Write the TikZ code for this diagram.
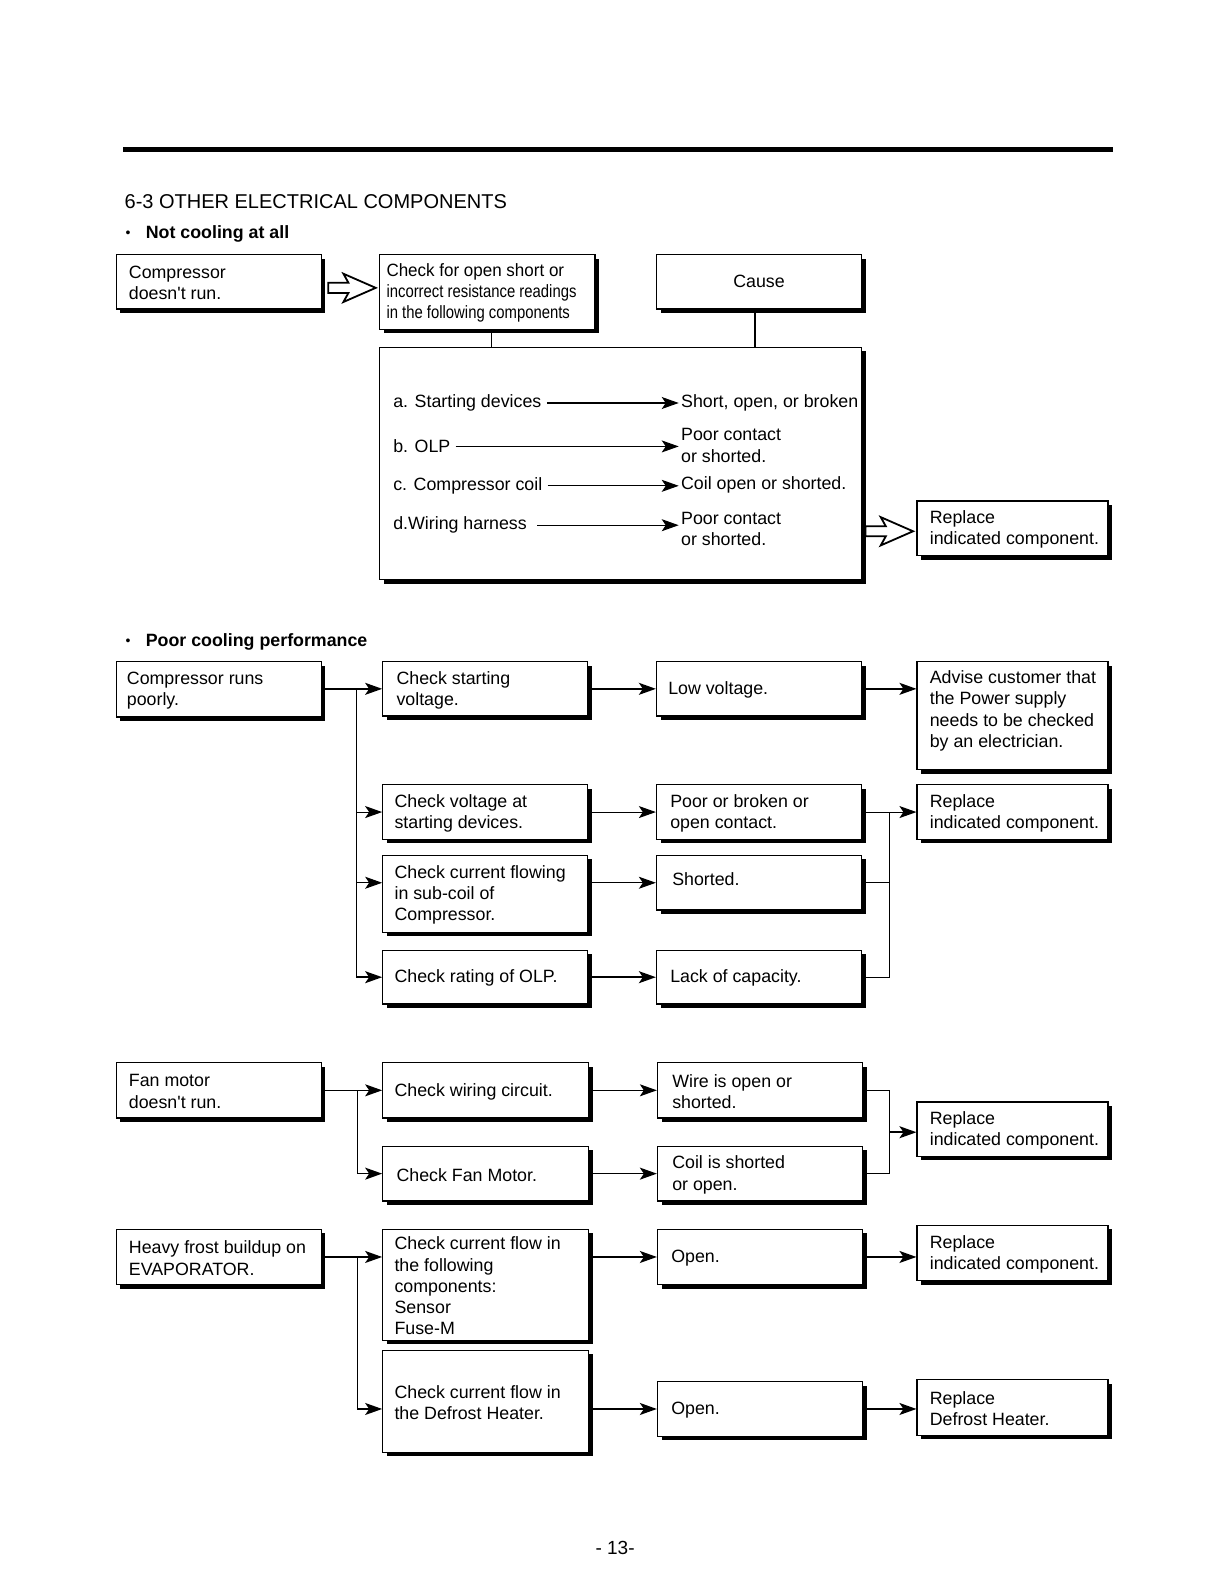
\documentclass[tikz,border=0pt]{standalone}
\usepackage{fontspec}
\setmainfont{Liberation Sans}[Ligatures=TeXOff]
\newfontfamily\narrowfont[FakeStretch=0.835,Ligatures=TeXOff]{Liberation Sans}
\newfontfamily\semifont[FakeStretch=0.955,Ligatures=TeXOff]{Liberation Sans}
\usetikzlibrary{arrows.meta,shadows}
\newcommand\fs{\fontsize{8.9}{10.6}\selectfont}
\newcommand\myHollow[2]{\draw[line width=0.9pt,fill=white,shift={(#1,#2)}] (0,-5) -- (20,-5) -- (15,-14) -- (47,0) -- (15,14) -- (20,5) -- (0,5) -- cycle;}
\begin{document}
\begin{tikzpicture}[x=0.505pt,y=-0.505pt,
  box/.style 2 args={draw, line width=0.65pt, fill=white,
    drop shadow={shadow xshift=2pt, shadow yshift=-2pt, fill=black, opacity=1},
    minimum width=#1*0.505pt, minimum height=#2*0.505pt, inner sep=0pt, font=\fs},
  lbl/.style={anchor=west, inner sep=0pt, align=left, font=\fs, yshift=-0.6pt},
  t/.style={label={[lbl,xshift=6.5pt]west:{#1}}},
  tp/.style 2 args={label={[lbl,xshift=#1]west:{#2}}},
  arr/.style={-{Stealth[length=8.5pt,width=6pt,inset=2pt]}, line width=0.75pt},
  thin/.style={line width=0.55pt},
  txt/.style={inner sep=1pt, font=\fs, align=left},
  head/.style={anchor=base west, inner sep=0pt, font=\fs\bfseries}]
\useasboundingbox (0,0) rectangle (1212,1568.3);

% header
\draw[line width=2.5pt] (122,148) -- (1102,148);
\node[anchor=base west, inner sep=0pt, font=\fontsize{10}{12}\selectfont] (title) at (123,206.5) {6-3 OTHER ELECTRICAL COMPONENTS};
\node[anchor=base west, inner sep=0pt, font=\fontsize{7}{8}\selectfont] (b1) at (124,235) {•};
\node[head] (h1) at (144,236.5) {Not cooling at all};

% section 1
\node[box={203}{54}, t={Compressor\\doesn't run.}] (a1) at (216.5,279) {};
\node[box={213}{74}, tp={3.5pt}{{\semifont Check for open short or}\\{\narrowfont incorrect resistance readings}\\{\narrowfont in the following components}}] (a2) at (482.5,289) {};
\node[box={203}{54}] (cause) at (751.5,279) {Cause};
\node[box={477}{230}] (big) at (614.5,459) {};
\draw[line width=0.8pt] ([xshift=2pt]a2.south) -- ([xshift=2pt]a2.south |- big.north);
\draw[line width=0.6pt] ([xshift=-2pt]cause.south) -- ([xshift=-2pt]cause.south |- big.north);
\myHollow{325}{285}

\node[txt, anchor=west] (la) at (387,399) {a. Starting devices};
\node[txt, anchor=west] (lb) at (387,442) {b. OLP};
\node[txt, anchor=west] (lc) at (387,481) {c. Compressor coil};
\node[txt, anchor=west] (ld) at (387,520) {d.Wiring harness};
\node[txt, anchor=west] (ra) at (672,399) {Short, open, or broken};
\node[txt, anchor=west] (rb) at (672,441) {Poor contact\\or shorted.};
\node[txt, anchor=west] (rc) at (672,480) {Coil open or shorted.};
\node[txt, anchor=west] (rd) at (672,524) {Poor contact\\or shorted.};
\draw[arr, thin, shorten <=1.5pt] (la.east) -- (la.east -| ra.west);
\draw[arr, thin, shorten <=1.5pt] (lb.east) -- (lb.east -| rb.west);
\draw[arr, thin, shorten <=1.5pt] (lc.east) -- (lc.east -| rc.west);
\draw[arr, thin, shorten <=4pt] (ld.east) -- (ld.east -| rd.west);

\myHollow{857}{526}
\node[box={189}{54}, t={Replace\\indicated component.}] (f0) at (1002.5,523) {};

% section 2
\node[anchor=base west, inner sep=0pt, font=\fontsize{7}{8}\selectfont] (b2) at (124,639) {•};
\node[head] (h2) at (144,640.5) {Poor cooling performance};
\node[box={203}{55}, tp={5.5pt}{Compressor runs\\poorly.}] (b0) at (216.5,682.5) {};
\node[box={203}{54}, tp={7pt}{Check starting\\voltage.}] (c1) at (480.5,682) {};
\node[box={203}{54}, tp={6pt}{Check voltage at\\starting devices.}] (c2) at (480.5,804) {};
\node[box={203}{76}, tp={6pt}{Check current flowing\\in sub-coil of\\Compressor.}] (c3) at (480.5,885) {};
\node[box={203}{53}, tp={6pt}{Check rating of OLP.}] (c4) at (480.5,967.5) {};
\node[box={203}{54}, tp={6pt}{Low voltage.}] (r1) at (751.5,682) {};
\node[box={203}{54}, tp={7pt}{Poor or broken or\\open contact.}] (r2) at (751.5,804) {};
\node[box={203}{54}, label={[lbl,xshift=8pt,yshift=2.5pt]west:{Shorted.}}] (r3) at (751.5,874) {};
\node[box={203}{53}, tp={7pt}{Lack of capacity.}] (r4) at (751.5,967.5) {};
\node[box={189}{107}, label={[lbl,xshift=6.5pt,yshift=3pt]west:{Advise customer that\\the Power supply\\needs to be checked\\by an electrician.}}] (f1) at (1002.5,708.5) {};
\node[box={189}{54}, t={Replace\\indicated component.}] (f2) at (1002.5,804) {};

\coordinate (t1) at (353,682);
\draw[arr] (b0.east |- c1.west) -- (c1.west);
\draw[arr] (t1) |- (c4.west);
\draw[arr, thin] (t1 |- c2.west) -- (c2.west);
\draw[arr, thin] (t1 |- r3.west) -- (c3.west |- r3.west);
\draw[arr] (c1.east) -- (r1.west);
\draw[arr, thin] (c2.east) -- (r2.west);
\draw[arr, thin] (c3.east |- r3.west) -- (r3.west);
\draw[arr] (c4.east) -- (r4.west);
\draw[arr] (r1.east) -- (r1.east -| f1.west);
\coordinate (bus1) at (881,804);
\draw[arr, thin] (r2.east) -- (f2.west);
\draw[thin] (r3.east) -- (r3.east -| bus1);
\draw[thin] (r4.east) -| (bus1);

% section 3
\node[box={203}{55}, t={Fan motor\\doesn't run.}] (fan) at (216.5,1079.5) {};
\node[box={204}{55}, tp={6pt}{Check wiring circuit.}] (c5) at (481,1079.5) {};
\node[box={204}{54}, tp={7pt}{Check Fan Motor.}] (c6) at (481,1162) {};
\node[box={203}{55}, tp={7.5pt}{Wire is open or\\shorted.}] (r5) at (752.5,1079.5) {};
\node[box={203}{54}, tp={7.5pt}{Coil is shorted\\or open.}] (r6) at (752.5,1162) {};
\node[box={189}{54}, t={Replace\\indicated component.}] (f3) at (1002.5,1118) {};
\coordinate (t2) at (354,1079.5);
\draw[arr, thin] (fan.east) -- (c5.west);
\draw[arr] (t2) |- (c6.west);
\draw[arr, thin] (c5.east) -- (r5.west);
\draw[arr] (c6.east) -- (r6.west);
\coordinate (bus2) at (881,1121);
\draw[thin] (r5.east) -| (bus2);
\draw[thin] (r6.east) -| (bus2);
\draw[arr] (bus2) -- (bus2 -| f3.west);

\node[box={203}{55}, t={Heavy frost buildup on\\EVAPORATOR.}] (frost) at (216.5,1244.5) {};
\node[box={204}{110}, tp={6pt}{Check current flow in\\the following\\components:\\Sensor\\Fuse-M}] (c7) at (481,1272) {};
\node[box={204}{101}, tp={6pt}{Check current flow in\\the Defrost Heater.}] (c8) at (481,1387.5) {};
\node[box={203}{55}, tp={7pt}{Open.}] (r7) at (752.5,1244.5) {};
\node[box={203}{54}, tp={7pt}{Open.}] (r8) at (752.5,1395) {};
\node[box={189}{55}, t={Replace\\indicated component.}] (f4) at (1002.5,1240.5) {};
\node[box={189}{55}, t={Replace\\Defrost Heater.}] (f5) at (1002.5,1393.5) {};
\coordinate (t3) at (354,1244.5);
\draw[arr] (frost.east) -- (frost.east -| c7.west);
\draw[arr] (t3) |- (c8.west |- r8.west);
\draw[arr] (c7.east |- r7.west) -- (r7.west);
\draw[arr] (c8.east |- r8.west) -- (r8.west);
\draw[arr] (r7.east) -- (r7.east -| f4.west);
\draw[arr] (r8.east) -- (r8.east -| f5.west);

\node[font=\fontsize{9.5}{11}\selectfont, inner sep=0pt] (page) at (609,1533) {- 13-};
\end{tikzpicture}
\end{document}
